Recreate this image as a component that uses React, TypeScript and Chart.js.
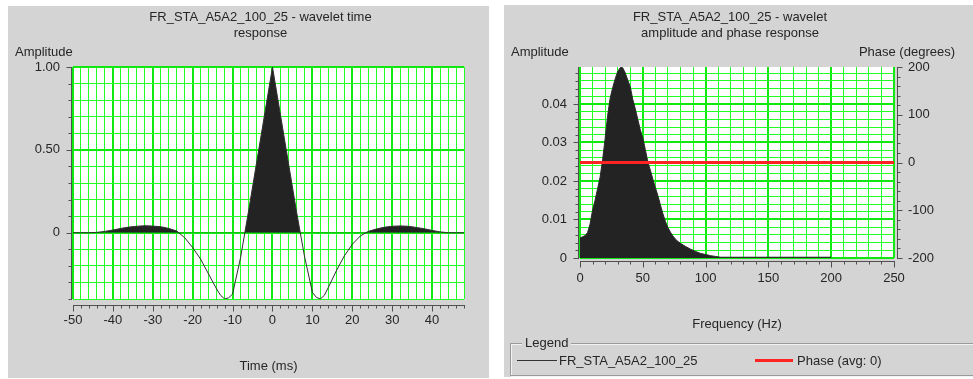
import React, { useEffect, useRef } from 'react';
import { Chart, registerables } from 'chart.js';

Chart.register(...registerables);

// ---------- data ----------
const timeMs = [-50, -48, -46, -44, -42, -40, -38, -36, -34, -32, -30, -28, -26, -24, -22, -20, -18, -16, -14, -13, -12, -11, -10, -8, -6, -4, -2, 0, 2, 4, 6, 8, 10, 11, 12, 13, 14, 16, 18, 20, 22, 24, 26, 28, 30, 32, 34, 36, 38, 40, 42, 44, 46, 48];
const waveletAmplitude = [0, 0, 0, 0.002, 0.008, 0.016, 0.026, 0.034, 0.039, 0.042, 0.04, 0.036, 0.026, 0.01, -0.03, -0.09, -0.16, -0.25, -0.34, -0.378, -0.4, -0.393, -0.37, -0.15, 0.13, 0.42, 0.71, 1, 0.71, 0.42, 0.13, -0.14, -0.36, -0.39, -0.4, -0.378, -0.33, -0.23, -0.14, -0.07, -0.02, 0.008, 0.022, 0.033, 0.039, 0.041, 0.039, 0.032, 0.024, 0.014, 0.005, 0, 0, 0];

const freqHz = [0, 2, 4, 6, 8, 10, 12, 14, 16, 18, 20, 22, 24, 26, 28, 30, 32, 33, 34, 36, 38, 40, 42, 44, 46, 48, 50, 52, 54, 56, 58, 60, 62, 64, 66, 68, 70, 72, 74, 76, 78, 80, 84, 88, 92, 96, 100, 104, 108, 112, 200];
const spectrumAmplitude = [0.0052, 0.0055, 0.0058, 0.0066, 0.0088, 0.0124, 0.015, 0.018, 0.021, 0.0255, 0.031, 0.037, 0.0415, 0.0442, 0.0465, 0.0484, 0.0494, 0.0496, 0.0494, 0.0481, 0.0462, 0.0445, 0.0412, 0.0388, 0.036, 0.0333, 0.0312, 0.0282, 0.025, 0.0228, 0.0205, 0.0183, 0.0162, 0.0138, 0.0115, 0.0095, 0.0079, 0.0067, 0.0057, 0.0049, 0.0043, 0.0038, 0.003, 0.0023, 0.0017, 0.0012, 0.0009, 0.0006, 0.0004, 0.0002, 0.0002];

const phaseFreqHz = [0, 250];
const phaseDegrees = [0, 0];

const timeRange = [-50, 48];
const waveletRange = [-0.4, 1.0];
const freqRange = [0, 250];
const ampRange = [0, 0.0496];
const phaseRange = [-200, 200];

const leftTitle = ['FR_STA_A5A2_100_25 - wavelet time', 'response'];
const rightTitle = ['FR_STA_A5A2_100_25 - wavelet', 'amplitude and phase response'];
const seriesName = 'FR_STA_A5A2_100_25';
const phaseName = 'Phase (avg: 0)';

// ---------- style ----------
const FONT_FAMILY = '"Liberation Sans", Arial, Helvetica, sans-serif';
const PANEL_BG = '#d4d4d4';
const TEXT_COLOR = '#262626';
const GRID_MINOR = '#22ff22';
const GRID_MAJOR = '#10e810';
const AXIS_COLOR = '#505050';
const FILL_COLOR = '#232323';

const isMultiple = (v: number, m: number) => Math.abs(v / m - Math.round(v / m)) < 1e-6;

type AxisDef = { id: string; side: 'bottom' | 'left' | 'right'; gap: number; major: number; minor: number; isMajor: (v: number) => boolean };
type TextDef = { text: string; x: number; y: number; align: CanvasTextAlign };

function panelPlugin(axes: AxisDef[], texts: TextDef[]) {
  return {
    id: 'panelDecor',
    beforeDraw(chart: any) {
      const { ctx, chartArea: a } = chart;
      ctx.save();
      ctx.fillStyle = '#ffffff';
      ctx.fillRect(a.left, a.top, a.right - a.left, a.bottom - a.top);
      ctx.restore();
    },
    afterDraw(chart: any) {
      const { ctx, chartArea: a } = chart;
      ctx.save();
      ctx.strokeStyle = AXIS_COLOR;
      ctx.lineWidth = 1;
      for (const ax of axes) {
        const scale = chart.scales[ax.id];
        ctx.beginPath();
        if (ax.side === 'bottom') {
          const y = Math.round(a.bottom + ax.gap) + 0.5;
          ctx.moveTo(a.left, y);
          ctx.lineTo(a.right + 1, y);
          for (const t of scale.ticks) {
            const x = Math.round(scale.getPixelForValue(t.value)) + 0.5;
            const len = ax.isMajor(t.value) ? ax.major : ax.minor;
            ctx.moveTo(x, y);
            ctx.lineTo(x, y + len);
          }
        } else {
          const dir = ax.side === 'left' ? -1 : 1;
          const x = Math.round(ax.side === 'left' ? a.left - ax.gap : a.right + ax.gap) + 0.5;
          ctx.moveTo(x, a.top);
          ctx.lineTo(x, a.bottom + 1);
          for (const t of scale.ticks) {
            const y = Math.round(scale.getPixelForValue(t.value)) + 0.5;
            const len = ax.isMajor(t.value) ? ax.major : ax.minor;
            ctx.moveTo(x, y);
            ctx.lineTo(x + dir * len, y);
          }
        }
        ctx.stroke();
      }
      ctx.fillStyle = TEXT_COLOR;
      ctx.font = `13px ${FONT_FAMILY}`;
      ctx.textBaseline = 'alphabetic';
      for (const t of texts) {
        ctx.textAlign = t.align;
        ctx.fillText(t.text, t.x, t.y);
      }
      ctx.restore();
    },
  };
}

const tickFont = { family: FONT_FAMILY, size: 13 };

const gridOpts = (isMajor: (v: number) => boolean) => ({
  drawTicks: false,
  color: (c: any) => (c.tick && isMajor(c.tick.value) ? GRID_MAJOR : GRID_MINOR),
  lineWidth: (c: any) => (c.tick && isMajor(c.tick.value) ? 2 : 1),
});

const major10 = (v: number) => isMultiple(v, 10);
const majorHalf = (v: number) => isMultiple(v, 0.5);
const major50 = (v: number) => isMultiple(v, 50);
const major001 = (v: number) => isMultiple(v, 0.01);
const major100 = (v: number) => isMultiple(v, 100);

function makeLeftConfig(): any {
  return {
    type: 'line',
    data: {
      datasets: [
        {
          label: seriesName,
          data: timeMs.map((t, i) => ({ x: t, y: waveletAmplitude[i] })),
          borderColor: '#303030',
          borderWidth: 1,
          pointRadius: 0,
          tension: 0,
          fill: { target: 'origin', above: FILL_COLOR, below: 'rgba(0,0,0,0)' },
        },
      ],
    },
    options: {
      animation: false,
      responsive: false,
      devicePixelRatio: 1,
      events: [],
      layout: { padding: { left: 0, right: 25, top: 61, bottom: 0 } },
      plugins: { legend: { display: false }, tooltip: { enabled: false }, title: { display: false } },
      scales: {
        x: {
          type: 'linear',
          min: timeRange[0],
          max: timeRange[1],
          afterFit: (s: any) => { s.height = 79; },
          border: { display: false },
          grid: gridOpts(major10),
          ticks: {
            stepSize: 2, autoSkip: false, maxRotation: 0, minRotation: 0, padding: 14,
            font: tickFont, color: TEXT_COLOR,
            callback: (v: any) => (isMultiple(v, 10) ? String(Math.round(v)) : ''),
          },
          title: { display: true, text: 'Time (ms)', font: tickFont, color: TEXT_COLOR, padding: { top: 0, bottom: 4 } },
        },
        y: {
          type: 'linear',
          min: waveletRange[0],
          max: waveletRange[1],
          afterFit: (s: any) => { s.width = 65; },
          border: { display: false },
          grid: gridOpts(majorHalf),
          ticks: {
            stepSize: 0.1, autoSkip: false, padding: 13, font: tickFont, color: TEXT_COLOR,
            callback: (v: any) => (isMultiple(v, 0.5) ? (Math.abs(v) < 1e-9 ? '0' : Number(v).toFixed(2)) : ''),
          },
        },
      },
    },
    plugins: [
      panelPlugin(
        [
          { id: 'x', side: 'bottom', gap: 6, major: 6, minor: 3, isMajor: major10 },
          { id: 'y', side: 'left', gap: 2, major: 5, minor: 3, isMajor: majorHalf },
        ],
        [
          { text: leftTitle[0], x: 252.5, y: 14.7, align: 'center' },
          { text: leftTitle[1], x: 252.5, y: 31, align: 'center' },
          { text: 'Amplitude', x: 7, y: 50, align: 'left' },
        ],
      ),
    ],
  };
}

function makeRightConfig(): any {
  return {
    type: 'line',
    data: {
      datasets: [
        {
          label: phaseName,
          data: phaseFreqHz.map((f, i) => ({ x: f, y: phaseDegrees[i] })),
          yAxisID: 'y2',
          borderColor: '#ff2424',
          backgroundColor: 'rgba(0,0,0,0)',
          borderWidth: 3,
          pointRadius: 0,
          fill: false,
          order: 0,
        },
        {
          label: seriesName,
          data: freqHz.map((f, i) => ({ x: f, y: spectrumAmplitude[i] })),
          yAxisID: 'y',
          borderColor: '#2a2a2a',
          borderWidth: 1,
          pointRadius: 0,
          tension: 0,
          fill: { target: 'origin', above: FILL_COLOR, below: 'rgba(0,0,0,0)' },
          order: 1,
        },
      ],
    },
    options: {
      animation: false,
      responsive: false,
      devicePixelRatio: 1,
      events: [],
      layout: { padding: { left: 0, right: 0, top: 62, bottom: 0 } },
      plugins: { legend: { display: false }, tooltip: { enabled: false }, title: { display: false } },
      scales: {
        x: {
          type: 'linear',
          min: freqRange[0],
          max: freqRange[1],
          afterFit: (s: any) => { s.height = 85; },
          border: { display: false },
          grid: gridOpts(major50),
          ticks: {
            stepSize: 10, autoSkip: false, maxRotation: 0, minRotation: 0, padding: 13,
            font: tickFont, color: TEXT_COLOR,
            callback: (v: any) => (isMultiple(v, 50) ? String(Math.round(v)) : ''),
          },
          title: { display: true, text: 'Frequency (Hz)', font: tickFont, color: TEXT_COLOR, padding: { top: 0, bottom: 11 } },
        },
        y: {
          type: 'linear',
          position: 'left',
          min: ampRange[0],
          max: ampRange[1],
          afterFit: (s: any) => { s.width = 76; },
          border: { display: false },
          grid: gridOpts(major001),
          ticks: {
            stepSize: 0.002, includeBounds: false, autoSkip: false, padding: 13, font: tickFont, color: TEXT_COLOR,
            callback: (v: any) => (isMultiple(v, 0.01) ? (Math.abs(v) < 1e-9 ? '0' : Number(v).toFixed(2)) : ''),
          },
        },
        y2: {
          type: 'linear',
          position: 'right',
          min: phaseRange[0],
          max: phaseRange[1],
          afterFit: (s: any) => { s.width = 79; },
          border: { display: false },
          grid: { display: false, drawTicks: false, drawOnChartArea: false },
          ticks: {
            stepSize: 20, autoSkip: false, padding: 14, font: tickFont, color: TEXT_COLOR,
            callback: (v: any) => (isMultiple(v, 100) ? String(Math.round(v)) : ''),
          },
        },
      },
    },
    plugins: [
      panelPlugin(
        [
          { id: 'x', side: 'bottom', gap: 3, major: 6, minor: 3, isMajor: major50 },
          { id: 'y', side: 'left', gap: 2, major: 5, minor: 3, isMajor: major001 },
          { id: 'y2', side: 'right', gap: 3, major: 5, minor: 3, isMajor: major100 },
        ],
        [
          { text: rightTitle[0], x: 226, y: 15.7, align: 'center' },
          { text: rightTitle[1], x: 226, y: 32, align: 'center' },
          { text: 'Amplitude', x: 7, y: 50.5, align: 'left' },
          { text: 'Phase (degrees)', x: 451, y: 50.5, align: 'right' },
        ],
      ),
    ],
  };
}

function ChartCanvas({ width, height, makeConfig }: { width: number; height: number; makeConfig: () => any }) {
  const ref = useRef<HTMLCanvasElement>(null);
  useEffect(() => {
    if (!ref.current) return;
    const chart = new Chart(ref.current, makeConfig());
    return () => chart.destroy();
  }, [makeConfig]);
  return <canvas ref={ref} width={width} height={height} style={{ display: 'block', width, height }} />;
}

export default function App() {
  const legendText: React.CSSProperties = {
    position: 'absolute',
    font: `13px ${FONT_FAMILY}`,
    color: TEXT_COLOR,
    lineHeight: '15px',
    whiteSpace: 'nowrap',
  };
  return (
    <div style={{ position: 'absolute', left: 0, top: 0, width: 973, height: 379, background: '#ffffff', overflow: 'hidden' }}>
      <div style={{ position: 'absolute', left: 8, top: 6, width: 481, height: 372, background: PANEL_BG }}>
        <ChartCanvas width={481} height={372} makeConfig={makeLeftConfig} />
      </div>
      <div style={{ position: 'absolute', left: 504, top: 5, width: 469, height: 372, background: PANEL_BG, overflow: 'hidden' }}>
        <ChartCanvas width={469} height={338} makeConfig={makeRightConfig} />
        <div
          style={{
            position: 'absolute', left: 6, top: 338, width: 480, height: 33, boxSizing: 'border-box',
            border: '1px solid #9a9a9a', boxShadow: 'inset 1px 1px 0 #f2f2f2, 1px 1px 0 #f2f2f2',
          }}
        >
          <span style={{ ...legendText, left: 11, top: -9, padding: '0 3px', background: PANEL_BG }}>Legend</span>
          <div style={{ position: 'absolute', left: 6, top: 16, width: 40, height: 1, background: '#333333' }} />
          <span style={{ ...legendText, left: 48, top: 9 }}>{seriesName}</span>
          <div style={{ position: 'absolute', left: 244, top: 15, width: 38, height: 3, background: '#ff2424' }} />
          <span style={{ ...legendText, left: 286, top: 9 }}>{phaseName}</span>
        </div>
      </div>
    </div>
  );
}
